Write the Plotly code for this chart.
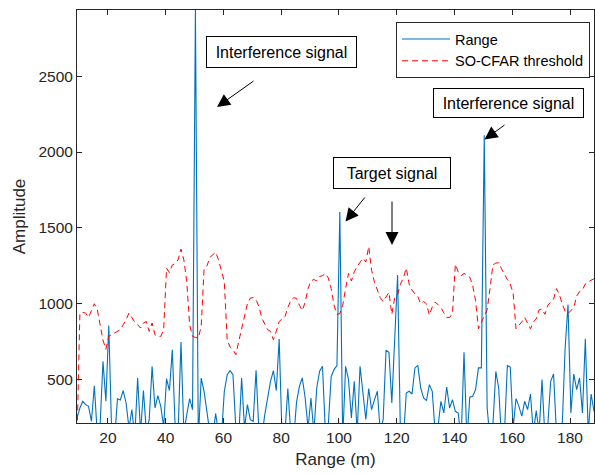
import numpy as np
import plotly.graph_objects as go

# Range bins (m)
range_m = np.round(np.arange(9.3, 188.31, 1.0), 1)

# Received amplitude
amplitude = [
    250, 313, 357, 335, 324, 225, 460, 150, 200, 620,
    357, 857, 150, 100, 374, 366, 428, 346, 180, 303,
    120, 510, 150, 428, 160, 236, 587, 313, 394, 324,
    190, 506, 428, 697, 180, 150, 747, 150, 268, 374,
    302, 2936, 100, 510, 422, 268, 150, 120, 276, 150,
    120, 422, 532, 559, 532, 180, 120, 510, 180, 335,
    236, 225, 561, 150, 120, 268, 379, 488, 559, 428,
    767, 120, 150, 441, 150, 100, 350, 456, 511, 379,
    180, 379, 150, 445, 555, 588, 150, 200, 521, 566,
    592, 1605, 100, 588, 500, 248, 489, 150, 588, 423,
    237, 441, 302, 368, 423, 150, 237, 693, 680, 346,
    790, 1190, 120, 100, 412, 423, 405, 577, 594, 445,
    379, 362, 467, 423, 150, 190, 357, 280, 451, 313,
    368, 291, 280, 100, 680, 100, 384, 390, 434, 577,
    577, 2110, 318, 100, 200, 554, 445, 100, 150, 592,
    583, 180, 375, 324, 259, 357, 302, 405, 150, 296,
    150, 500, 120, 200, 489, 537, 150, 100, 200, 708,
    995, 280, 537, 434, 511, 280, 769, 150, 405, 290,
]

# SO-CFAR threshold
threshold = [
    100, 938, 943, 938, 910, 960, 1000, 965, 870, 760, 700,
    785, 796, 807, 818, 829, 862, 895, 939, 905, 879,
    862, 840, 873, 883, 818, 873, 796, 785, 785, 829,
    1235, 1205, 1255, 1265, 1290, 1360, 1289, 1146, 861, 785,
    778, 774, 850, 1230, 1250, 1305, 1322, 1340, 1289, 1212,
    1146, 760, 715, 697, 664, 752, 840, 916, 1000, 1037,
    1041, 1026, 982, 905, 862, 829, 818, 763, 818, 883,
    900, 915, 975, 1020, 1040, 1035, 990, 955, 1010, 1100,
    1150, 1160, 1150, 1180, 1185, 1200, 1170, 1100, 990, 930,
    935, 990, 1100, 1200, 1150, 1210, 1245, 1275, 1300, 1275,
    1377, 1220, 1140, 1090, 1040, 1015, 1045, 1075, 930, 1040,
    1060, 1130, 1170, 1235, 1130, 1090, 1065, 1048, 1000, 1015,
    1000, 925, 980, 1010, 995, 975, 940, 910, 910, 935,
    1260, 1210, 1185, 1200, 1190, 1175, 1120, 1020, 835, 880,
    915, 960, 1100, 1256, 1268, 1270, 1230, 1190, 1160, 1130,
    1070, 835, 855, 880, 910, 870, 835, 880, 900, 960,
    965, 930, 990, 1010, 1030, 1100, 1060, 1000, 950, 935,
    955, 975, 1050, 1080, 1092, 1130, 1145, 1157, 1165,
]

x_ticks = [20, 40, 60, 80, 100, 120, 140, 160, 180]
y_ticks = [500, 1000, 1500, 2000, 2500]

W, H = 595, 474
L, R, T, B = 77, 1, 10, 51
PW, PH = W - L - R, H - T - B


def px(xp):
    return (xp - L) / PW


def py(yp):
    return (H - B - yp) / PH


FONT = "Liberation Sans, Arial, Helvetica, sans-serif"
TXT = "#262626"

fig = go.Figure()
fig.add_trace(go.Scatter(x=range_m, y=amplitude, mode="lines", name="Range",
                         line=dict(color="#0072BD", width=1.1)))
fig.add_trace(go.Scatter(x=range_m, y=threshold, mode="lines", name="SO-CFAR threshold",
                         line=dict(color="#FF0000", width=1, dash="6px,4px")))

annotations = []
# text boxes
for text, cx, cy, w, h in [
    ("Interference signal", 281.5, 52, 151, 32),
    ("Target signal", 392, 173, 118, 32),
    ("Interference signal", 508.5, 103, 151, 30),
]:
    annotations.append(dict(text=text, x=px(cx), y=py(cy), xref="paper", yref="paper",
                            showarrow=False, xanchor="center", yanchor="middle",
                            width=w - 4, height=h - 4, borderpad=1,
                            bordercolor="#000000", borderwidth=1, bgcolor="white",
                            font=dict(family=FONT, size=16, color="#000000")))
# arrows (tip, tail)
for (tx, ty), (sx, sy) in [
    ((217, 107), (255, 80)),
    ((345.5, 221.5), (366, 196)),
    ((392, 245), (392, 200)),
    ((484.5, 139.5), (506, 124)),
]:
    annotations.append(dict(text="", x=px(tx), y=py(ty), xref="paper", yref="paper",
                            showarrow=True, ax=sx - tx, ay=sy - ty, axref="pixel", ayref="pixel",
                            arrowhead=2, arrowsize=2.6, arrowwidth=1, arrowcolor="#000000",
                            standoff=0, startstandoff=0))

fig.update_layout(
    width=W, height=H,
    margin=dict(l=L, r=R, t=T, b=B, pad=0),
    paper_bgcolor="white", plot_bgcolor="white",
    font=dict(family=FONT, size=15, color=TXT),
    showlegend=True,
    legend=dict(x=px(396), y=py(22), xanchor="left", yanchor="top",
                bgcolor="white", bordercolor="#262626", borderwidth=1,
                font=dict(family=FONT, size=14.5, color="#000000"),
                tracegroupgap=0, itemwidth=48),
    annotations=annotations,
)
fig.update_xaxes(range=[9.3, 188.3], tickvals=x_ticks, ticks="inside", ticklen=5,
                 tickcolor=TXT, showline=True, linecolor=TXT, linewidth=1, mirror="ticks",
                 showgrid=False, zeroline=False,
                 tickfont=dict(family=FONT, size=15.5, color=TXT),
                 title=dict(text="Range (m)", font=dict(family=FONT, size=17, color=TXT), standoff=8))
fig.update_yaxes(range=[214, 2936], tickvals=y_ticks, ticks="inside", ticklen=5,
                 tickcolor=TXT, showline=True, linecolor=TXT, linewidth=1, mirror="ticks",
                 showgrid=False, zeroline=False,
                 tickfont=dict(family=FONT, size=15.5, color=TXT),
                 title=dict(text="Amplitude", font=dict(family=FONT, size=17, color=TXT), standoff=8))

fig.write_html("out.html")
